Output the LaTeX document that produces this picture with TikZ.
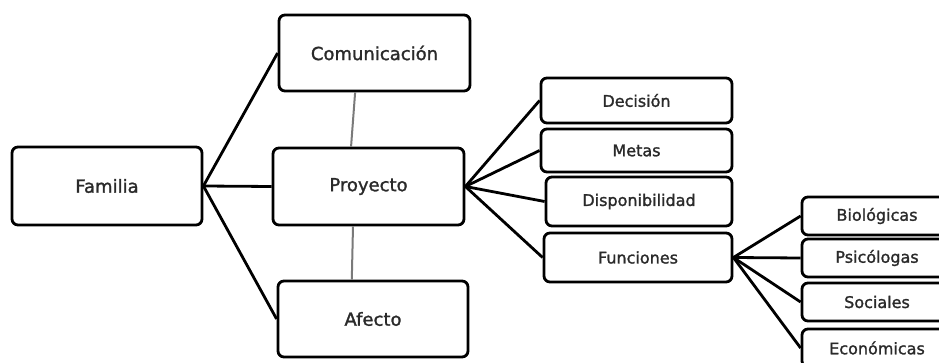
\documentclass[tikz,border=0pt]{standalone}
\usepackage{fontspec}
\setmainfont[FakeBold=1.4]{DejaVu Sans}
\usetikzlibrary{calc}
\definecolor{txt}{HTML}{2A2A2A}
\definecolor{link}{HTML}{7A7A7A}
\tikzset{
  box/.style={draw=black, line width=2.8pt, rounded corners=6pt, fill=white, text=txt, align=center, inner sep=0pt},
  big/.style={box, font=\fontsize{18}{20}\selectfont},
  small/.style={box, font=\fontsize{16}{18}\selectfont},
  conn/.style={draw=black, line width=2.8pt},
  glink/.style={draw=link, line width=2pt}
}
\begin{document}
\begin{tikzpicture}[x=1pt,y=-1pt]
\useasboundingbox (0,0) rectangle (939,363);
\clip (0,0) rectangle (939,363);
\fill[white] (0,0) rectangle (939,363);
% left nodes
\node[big, minimum width=190pt, minimum height=78pt] (fam) at (107,186) {Familia};
\node[big, minimum width=191pt, minimum height=76pt] (com) at (374.5,53) {Comunicación};
\node[big, minimum width=191pt, minimum height=77pt] (pro) at (368.5,186.5) {Proyecto};
\node[big, minimum width=190pt, minimum height=76pt] (afe) at (373,319) {Afecto};
% middle nodes
\node[small, minimum width=191pt, minimum height=45pt] (dec) at (636.5,100.5) {Decisión};
\node[small, minimum width=191pt, minimum height=43pt] (met) at (636.5,150.5) {Metas};
\node[small, minimum width=186pt, minimum height=49pt] (dis) at (639,201.5) {Disponibilidad};
\node[small, minimum width=188pt, minimum height=49pt] (fun) at (638,257.5) {Funciones};
% right nodes
\node[small, minimum width=150pt, minimum height=38pt] (bio) at (877,216) {Biológicas};
\node[small, minimum width=150pt, minimum height=38pt] (psi) at (877,258) {Psicólogas};
\node[small, minimum width=150pt, minimum height=38pt] (soc) at (877,302) {Sociales};
\node[small, minimum width=150pt, minimum height=38pt] (eco) at (877,348) {Económicas};
% connectors
\draw[conn] (fam.east) -- (com.west);
\draw[conn] (fam.east) -- (pro.west);
\draw[conn] (fam.east) -- (afe.west);
\draw[conn] (pro.east) -- (dec.west);
\draw[conn] (pro.east) -- (met.west);
\draw[conn] (pro.east) -- (dis.west);
\draw[conn] (pro.east) -- (fun.west);
\draw[conn] (fun.east) -- (bio.west);
\draw[conn] (fun.east) -- (psi.west);
\draw[conn] (fun.east) -- (soc.west);
\draw[conn] (fun.east) -- (eco.west);
\draw[glink] ($(com.south west)!0.4!(com.south east)$) -- ($(pro.north west)!0.41!(pro.north east)$);
\draw[glink] ($(pro.south west)!0.42!(pro.south east)$) -- ($(afe.north west)!0.39!(afe.north east)$);
\end{tikzpicture}
\end{document}
